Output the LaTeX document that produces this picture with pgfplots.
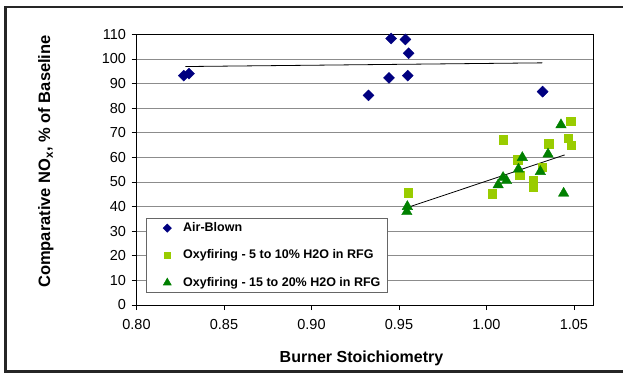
\documentclass[border=0pt]{standalone}
\usepackage{fontspec}
\setmainfont{Liberation Sans}
\usepackage{pgfplots}
\pgfplotsset{compat=1.18}
\definecolor{navyb}{HTML}{000080}
\definecolor{lgreen}{HTML}{99CC00}
\definecolor{dgreen}{HTML}{008000}
\begin{document}
\begin{tikzpicture}[x=1pt,y=1pt]
\useasboundingbox (0,0) rectangle (623,375);
\draw[line width=2.5pt, black!85] (5.5,3.5) rectangle (640,368);
\begin{axis}[
  at={(136.5pt,70pt)}, anchor=south west,
  scale only axis, width=456.5pt, height=270.7pt,
  xmin=0.8, xmax=1.0609, ymin=0, ymax=110,
  xtick={0.80,0.85,0.90,0.95,1.00,1.05},
  ytick={0,10,...,110},
  tick align=outside, major tick length=5pt,
  xtick pos=bottom, ytick pos=left,
  ymajorgrids, grid style={black!45, line width=0.8pt},
  axis line style={black, line width=0.8pt},
  tick style={black, line width=0.8pt},
  /pgf/number format/assume math mode=true,
  ticklabel style={font=\fontsize{14.5}{16}\selectfont},
  x tick label style={/pgf/number format/fixed, /pgf/number format/fixed zerofill, /pgf/number format/precision=2, yshift=-6pt},
  y tick label style={xshift=-2pt},
  xlabel={Burner Stoichiometry},
  x label style={at={(axis description cs:0.4929,-0.2106)}, anchor=base, font=\bfseries\fontsize{16}{18}\selectfont},
  ylabel={Comparative NO\textsubscript{x}, \% of Baseline},
  y label style={at={(axis description cs:-0.189,0.53)}, anchor=base, rotate=0, font=\bfseries\fontsize{16.5}{18}\selectfont},
  legend style={at={(axis description cs:0.0208,0.0443)}, anchor=south west, draw=black!60, line width=0.6pt,
    inner xsep=4.4pt, inner ysep=1.5pt, row sep=10.3pt,
    font=\bfseries\fontsize{12.5}{14}\selectfont,
    nodes={inner sep=2pt, text height=10pt, text depth=3pt}},
  legend cell align=left,
  legend image code/.code={\path (-16.3pt,0pt) (13.6pt,0pt); \draw[#1, every mark/.append style={scale=0.75}] plot coordinates {(0pt,0pt)};},
]
\addplot[only marks, mark=square*, mark size=3.9pt, mark options={rotate=45, fill=navyb, draw=navyb}] coordinates {
(0.827,93.2) (0.830,94.0) (0.9455,108.3) (0.9537,107.9) (0.9555,102.3)
(0.9443,92.3) (0.955,93.2) (0.9326,85.2) (1.0321,86.7)
};
\addlegendentry{Air-Blown}
\addplot[only marks, mark=square*, mark size=4.2pt, mark options={fill=lgreen, draw=lgreen}] coordinates {
(1.0481,74.8) (1.0096,67.1) (1.0468,67.8) (1.0483,64.9) (1.0355,65.5) (1.0178,59.0)
(1.0318,55.9) (1.0189,52.8) (1.0267,50.8) (1.0267,47.8) (1.0034,45.2) (0.9554,45.7)
};
\addlegendentry{Oxyfiring - 5 to 10\% H2O in RFG}
\addplot[only marks, mark=triangle*, mark size=6pt, mark options={fill=dgreen, draw=dgreen}] coordinates {
(1.0426,73.2) (1.0205,59.9) (1.0352,61.3) (1.0183,55.2) (1.0308,54.2) (1.0095,51.8)
(1.0115,50.5) (1.0067,48.8) (1.0441,45.4) (0.9548,40.0) (0.9545,37.9)
};
\addlegendentry{Oxyfiring - 15 to 20\% H2O in RFG}
\addplot[forget plot, black, line width=0.8pt] coordinates {(0.828,96.9) (1.032,98.4)};
\addplot[forget plot, black, line width=0.8pt] coordinates {(0.9548,39.6) (1.0447,61.0)};
\end{axis}
\end{tikzpicture}
\end{document}
